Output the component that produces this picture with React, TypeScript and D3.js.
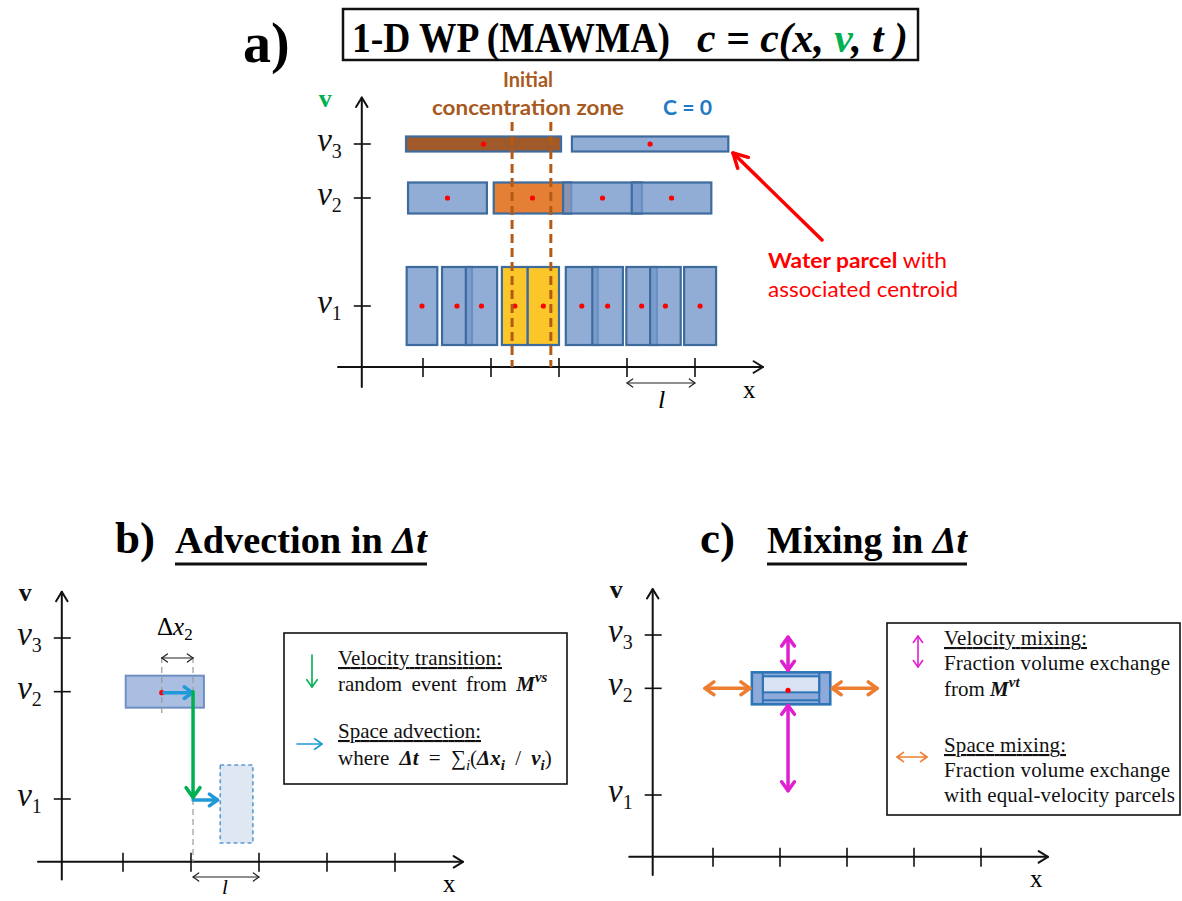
import React from "react"
import * as d3 from "d3"

const SERIF = "'Liberation Serif', 'Times New Roman', serif"
const SANS = "Lato, 'Open Sans', sans-serif"

// velocity classes and their place on the v axis
const levels = ["v1", "v2", "v3"]
const levelPos: Record<string, number> = { v1: 1, v2: 3, v3: 4 }
const levelSub: Record<string, string> = { v1: "1", v2: "2", v3: "3" }
const xTicks = [1, 2, 3, 4, 5]

// panel a: water parcels, x in units of l
const parcelsA = [
  { level: "v3", x0: 0.75, x1: 3.03, kind: "brown" },
  { level: "v3", x0: 3.19, x1: 5.49, kind: "blue" },
  { level: "v2", x0: 0.78, x1: 1.94, kind: "blue" },
  { level: "v2", x0: 2.04, x1: 3.18, kind: "orange" },
  { level: "v2", x0: 3.06, x1: 4.22, kind: "blue" },
  { level: "v2", x0: 4.07, x1: 5.24, kind: "blue" },
  { level: "v1", x0: 0.76, x1: 1.21, kind: "blue" },
  { level: "v1", x0: 1.28, x1: 1.72, kind: "blue" },
  { level: "v1", x0: 1.63, x1: 2.09, kind: "blue" },
  { level: "v1", x0: 2.16, x1: 2.54, kind: "yellow" },
  { level: "v1", x0: 2.54, x1: 3.0, kind: "yellow" },
  { level: "v1", x0: 3.1, x1: 3.57, kind: "blue" },
  { level: "v1", x0: 3.49, x1: 3.94, kind: "blue" },
  { level: "v1", x0: 3.99, x1: 4.44, kind: "blue" },
  { level: "v1", x0: 4.34, x1: 4.79, kind: "blue" },
  { level: "v1", x0: 4.84, x1: 5.31, kind: "blue" },
]
const zoneEdges = [2.31, 2.88]

// panel b: advection of one parcel
const parcelB = { level: "v2", x0: 1.04, x1: 2.19, centroid: 1.57 }
const dxEnd = 2.03
const movedB = { level: "v1", x0: 2.43, x1: 2.91 }
const advectB = [
  { v: 3, u0: 1.6, u1: 2.02 },
  { v: 1, u0: 2.03, u1: 2.39 },
]
const transitionB = { u: 2.03, v0: 3, v1: 1.03 }

// panel c: mixing of one parcel
const parcelC = { level: "v2", x0: 1.58, x1: 2.75, centroid: 2.12 }
const spaceMixC = [
  { u0: 0.88, u1: 1.55 },
  { u0: 2.78, u1: 3.45 },
]
const velMixC = [
  { v0: 3.34, v1: 3.96 },
  { v0: 1.08, v1: 2.68 },
]

const parcelHeightA: Record<string, number> = { v1: 78, v2: 31, v3: 15 }
const kindFill: Record<string, string> = {
  blue: "#7598cc",
  brown: "#a05a2a",
  orange: "#e47f35",
  yellow: "#fbc62a",
}

function Arrow({ x1, y1, x2, y2, color, width = 3, head = 10, both = false, spread = 0.62 }: any) {
  const a = Math.atan2(y2 - y1, x2 - x1)
  const chev = (x: number, y: number, ang: number) => {
    const p = d3.path()
    p.moveTo(x - head * Math.cos(ang - spread), y - head * Math.sin(ang - spread))
    p.lineTo(x, y)
    p.lineTo(x - head * Math.cos(ang + spread), y - head * Math.sin(ang + spread))
    return p.toString()
  }
  return (
    <g stroke={color} strokeWidth={width} fill="none" strokeLinecap="round" strokeLinejoin="round">
      <line x1={x1} y1={y1} x2={x2} y2={y2} />
      <path d={chev(x2, y2, a)} />
      {both && <path d={chev(x1, y1, a + Math.PI)} />}
    </g>
  )
}

function Frame({ x, y, xAxisAt, vColor }: any) {
  const ax = x(0.1)
  const ay = y(xAxisAt)
  const left = x(-0.25)
  const right = x(6)
  const bottom = y(-0.5)
  const top = y(4.86)
  return (
    <g>
      <Arrow x1={ax} y1={bottom} x2={ax} y2={top} color="#111" width={2} head={11} spread={0.55} />
      <Arrow x1={left} y1={ay} x2={right} y2={ay} color="#111" width={2} head={11} spread={0.55} />
      {xTicks.map((t) => (
        <line key={t} x1={x(t)} x2={x(t)} y1={ay - 9} y2={ay + 10} stroke="#111" strokeWidth={1.6} />
      ))}
      {levels.map((l) => (
        <g key={l}>
          <line x1={ax - 8} x2={ax + 9} y1={y(levelPos[l])} y2={y(levelPos[l])} stroke="#111" strokeWidth={1.6} />
          <text x={ax - 20} y={y(levelPos[l]) + 7} textAnchor="end" fontFamily={SERIF} fontStyle="italic" fontSize={33} fill="#111">
            v<tspan fontStyle="normal" fontSize={20} dy={7}>{levelSub[l]}</tspan>
          </text>
        </g>
      ))}
      <text x={ax - 43} y={top + 9} fontFamily={SERIF} fontWeight="bold" fontSize={26} fill={vColor}>v</text>
    </g>
  )
}

export default function App() {
  const xA = d3.scaleLinear().domain([0, 1]).range([355, 423])
  const yA = d3.scaleLinear().domain([1, 4]).range([306, 144])
  const xB = d3.scaleLinear().domain([0, 1]).range([55, 123])
  const yB = d3.scaleLinear().domain([1, 4]).range([799, 638])
  const xC = d3.scaleLinear().domain([0, 1]).range([646, 713])
  const yC = d3.scaleLinear().domain([1, 4]).range([795, 635])

  const legendText = { fontFamily: SERIF, fontSize: 21, fill: "#111" }

  return (
    <svg width={1182} height={901} style={{ position: "absolute", left: 0, top: 0, background: "#fff" }}>
      {/* ---------- panel a ---------- */}
      <text x={243} y={62} fontFamily={SERIF} fontWeight="bold" fontSize={56}>a)</text>
      <rect x={343} y={9} width={575} height={51} fill="none" stroke="#111" strokeWidth={2.5} />
      <text x={352} y={52} fontFamily={SERIF} fontWeight="bold" fontSize={42} textLength={318} lengthAdjust="spacingAndGlyphs">
        1-D WP (MAWMA)
      </text>
      <text x={697} y={52} fontFamily={SERIF} fontWeight="bold" fontStyle="italic" fontSize={42} textLength={211} lengthAdjust="spacingAndGlyphs">
        c = c(x, <tspan fill="#00b050">v</tspan>, t )
      </text>

      <Frame x={xA} y={yA} xAxisAt={-0.13} vColor="#00b050" />

      {parcelsA.map((p, i) => {
        const h = parcelHeightA[p.level]
        const cy = yA(levelPos[p.level])
        return (
          <rect
            key={i}
            x={xA(p.x0)}
            y={cy - h / 2}
            width={xA(p.x1) - xA(p.x0)}
            height={h}
            fill={kindFill[p.kind]}
            fillOpacity={p.kind === "blue" ? 0.8 : 1}
            stroke="#3e6b9e"
            strokeWidth={2.2}
          />
        )
      })}
      {parcelsA.map((p, i) => (
        <circle key={i} cx={xA((p.x0 + p.x1) / 2)} cy={yA(levelPos[p.level])} r={2.6} fill="#ff0000" />
      ))}
      {zoneEdges.map((z) => (
        <line key={z} x1={xA(z)} x2={xA(z)} y1={122} y2={yA(-0.13)} stroke="#b35b16" strokeWidth={3} strokeDasharray="9,5" />
      ))}

      <text x={528} y={87} textAnchor="middle" fontFamily={SANS} fontWeight="bold" fontSize={20} fill="#a85a1e">Initial</text>
      <text x={432} y={115} fontFamily={SANS} fontWeight="bold" fontSize={21} fill="#a85a1e" textLength={192} lengthAdjust="spacingAndGlyphs">
        concentration zone
      </text>
      <text x={663} y={115} fontFamily={SANS} fontWeight="bold" fontSize={21} fill="#1e7bc6" textLength={49} lengthAdjust="spacingAndGlyphs">
        C = 0
      </text>

      <Arrow x1={822} y1={240} x2={733} y2={153} color="#ff0000" width={3.5} head={16} spread={0.5} />
      <text x={768} y={268} fontFamily={SANS} fontSize={21.5} fill="#ff0000" textLength={179} lengthAdjust="spacingAndGlyphs">
        <tspan fontWeight="bold">Water parcel</tspan> with
      </text>
      <text x={768} y={297} fontFamily={SANS} fontSize={21.5} fill="#ff0000" textLength={190} lengthAdjust="spacingAndGlyphs">
        associated centroid
      </text>

      <Arrow x1={xA(4)} y1={383} x2={xA(5)} y2={383} color="#222" width={1.2} head={7} both />
      <text x={658} y={408} fontFamily={SERIF} fontStyle="italic" fontSize={26}>l</text>
      <text x={743} y={398} fontFamily={SERIF} fontSize={25}>x</text>

      {/* ---------- panel b ---------- */}
      <text x={115} y={553} fontFamily={SERIF} fontWeight="bold" fontSize={45}>b)</text>
      <text x={175} y={553} fontFamily={SERIF} fontWeight="bold" fontSize={38} textLength={252} lengthAdjust="spacingAndGlyphs">
        Advection in <tspan fontStyle="italic">Δt</tspan>
      </text>
      <line x1={175} x2={427} y1={564} y2={564} stroke="#111" strokeWidth={3} />

      <Frame x={xB} y={yB} xAxisAt={-0.17} vColor="#111" />

      <rect
        x={xB(parcelB.x0)}
        y={yB(levelPos[parcelB.level]) - 16}
        width={xB(parcelB.x1) - xB(parcelB.x0)}
        height={32}
        fill="#a9bee0"
        stroke="#6f8fc2"
        strokeWidth={2}
      />
      <rect
        x={xB(movedB.x0)}
        y={yB(levelPos[movedB.level]) - 34}
        width={xB(movedB.x1) - xB(movedB.x0)}
        height={78}
        fill="#dfe7f2"
        stroke="#5b9bd5"
        strokeWidth={1.6}
        strokeDasharray="4,3"
      />
      {[parcelB.centroid, dxEnd].map((u) => (
        <line key={u} x1={xB(u)} x2={xB(u)} y1={657} y2={713} stroke="#999" strokeWidth={1.2} strokeDasharray="6,4" />
      ))}
      <line x1={xB(dxEnd)} x2={xB(dxEnd)} y1={yB(1)} y2={yB(-0.17)} stroke="#999" strokeWidth={1.2} strokeDasharray="6,4" />
      <Arrow x1={xB(parcelB.centroid)} y1={658} x2={xB(dxEnd)} y2={658} color="#222" width={1.2} head={7} both />
      <text x={157} y={635} fontFamily={SERIF} fontSize={25}>
        Δ<tspan fontStyle="italic">x</tspan><tspan fontSize={17} dy={5}>2</tspan>
      </text>
      <circle cx={xB(parcelB.centroid)} cy={yB(3) + 1} r={2.6} fill="#ff0000" />
      {advectB.map((a, i) => (
        <Arrow key={i} x1={xB(a.u0)} y1={yB(a.v) + 1} x2={xB(a.u1)} y2={yB(a.v) + 1} color="#1f9ad6" width={3.5} head={10} />
      ))}
      <Arrow x1={xB(transitionB.u)} y1={yB(transitionB.v0)} x2={xB(transitionB.u)} y2={yB(transitionB.v1)} color="#00b050" width={3.5} head={12} />

      <Arrow x1={xB(2.03)} y1={877} x2={xB(3)} y2={877} color="#222" width={1.2} head={7} both />
      <text x={222} y={894} fontFamily={SERIF} fontStyle="italic" fontSize={21}>l</text>
      <text x={443} y={892} fontFamily={SERIF} fontSize={25}>x</text>

      <rect x={284} y={633} width={283} height={151} fill="none" stroke="#111" strokeWidth={1.6} />
      <Arrow x1={312} y1={655} x2={312} y2={687} color="#00b050" width={1.6} head={9} />
      <Arrow x1={297} y1={744} x2={322} y2={744} color="#1f9ad6" width={1.6} head={9} />
      <text x={338} y={665} {...legendText} textDecoration="underline" textLength={164} lengthAdjust="spacing">
        Velocity transition:
      </text>
      <text x={338} y={691} {...legendText} wordSpacing={4}>
        random event from <tspan fontWeight="bold" fontStyle="italic">M</tspan>
        <tspan fontWeight="bold" fontStyle="italic" fontSize={15} dy={-9}>vs</tspan>
      </text>
      <text x={338} y={738} {...legendText} textDecoration="underline" textLength={143} lengthAdjust="spacing">
        Space advection:
      </text>
      <text x={338} y={765} {...legendText} wordSpacing={5}>
        where <tspan fontWeight="bold" fontStyle="italic">Δt</tspan> = ∑
        <tspan fontSize={15} fontStyle="italic" dy={5}>i</tspan>
        <tspan dy={-5}>(</tspan>
        <tspan fontWeight="bold" fontStyle="italic">Δx</tspan>
        <tspan fontWeight="bold" fontStyle="italic" fontSize={15} dy={5}>i</tspan>
        <tspan dy={-5}> / </tspan>
        <tspan fontWeight="bold" fontStyle="italic">v</tspan>
        <tspan fontWeight="bold" fontStyle="italic" fontSize={15} dy={5}>i</tspan>
        <tspan dy={-5}>)</tspan>
      </text>

      {/* ---------- panel c ---------- */}
      <text x={700} y={553} fontFamily={SERIF} fontWeight="bold" fontSize={45}>c)</text>
      <text x={767} y={553} fontFamily={SERIF} fontWeight="bold" fontSize={38} textLength={200} lengthAdjust="spacingAndGlyphs">
        Mixing in <tspan fontStyle="italic">Δt</tspan>
      </text>
      <line x1={767} x2={967} y1={564} y2={564} stroke="#111" strokeWidth={3} />

      <Frame x={xC} y={yC} xAxisAt={-0.16} vColor="#111" />

      {(() => {
        const x0 = xC(parcelC.x0)
        const x1 = xC(parcelC.x1)
        const cy = yC(levelPos[parcelC.level])
        const top = cy - 16
        const bot = cy + 16
        return (
          <g stroke="#2e75b6">
            <rect x={x0} y={top} width={x1 - x0} height={bot - top} fill="#8eaadb" strokeWidth={2.6} />
            <rect x={x0 + 11} y={top + 4} width={x1 - x0 - 22} height={16} fill="#dae3f3" strokeWidth={2} />
            <line x1={x0 + 11} x2={x0 + 11} y1={top} y2={bot} strokeWidth={2} />
            <line x1={x1 - 11} x2={x1 - 11} y1={top} y2={bot} strokeWidth={2} />
            <line x1={x0 + 11} x2={x1 - 11} y1={bot - 4} y2={bot - 4} strokeWidth={2} />
            <circle cx={xC(parcelC.centroid)} cy={cy + 2} r={2.6} fill="#ff0000" stroke="none" />
          </g>
        )
      })()}
      {spaceMixC.map((a, i) => (
        <Arrow key={i} x1={xC(a.u0)} y1={yC(3)} x2={xC(a.u1)} y2={yC(3)} color="#ed7d31" width={3.5} head={11} both />
      ))}
      {velMixC.map((a, i) => (
        <Arrow key={i} x1={xC(parcelC.centroid)} y1={yC(a.v0)} x2={xC(parcelC.centroid)} y2={yC(a.v1)} color="#e020d0" width={3.5} head={11} both />
      ))}

      <text x={1030} y={887} fontFamily={SERIF} fontSize={25}>x</text>

      <rect x={887} y={623} width={293} height={192} fill="none" stroke="#111" strokeWidth={1.6} />
      <Arrow x1={918} y1={636} x2={918} y2={667} color="#e020d0" width={1.6} head={8} both />
      <Arrow x1={897} y1={757} x2={927} y2={757} color="#ed7d31" width={1.6} head={8} both />
      <text x={944} y={645} {...legendText} textDecoration="underline" textLength={143} lengthAdjust="spacing">
        Velocity mixing:
      </text>
      <text x={944} y={670} {...legendText} textLength={226} lengthAdjust="spacing">
        Fraction volume exchange
      </text>
      <text x={944} y={696} {...legendText}>
        from <tspan fontWeight="bold" fontStyle="italic">M</tspan>
        <tspan fontWeight="bold" fontStyle="italic" fontSize={15} dy={-9}>vt</tspan>
      </text>
      <text x={944} y={752} {...legendText} textDecoration="underline" textLength={122} lengthAdjust="spacing">
        Space mixing:
      </text>
      <text x={944} y={777} {...legendText} textLength={226} lengthAdjust="spacing">
        Fraction volume exchange
      </text>
      <text x={944} y={802} {...legendText} textLength={231} lengthAdjust="spacing">
        with equal-velocity parcels
      </text>
    </svg>
  )
}
